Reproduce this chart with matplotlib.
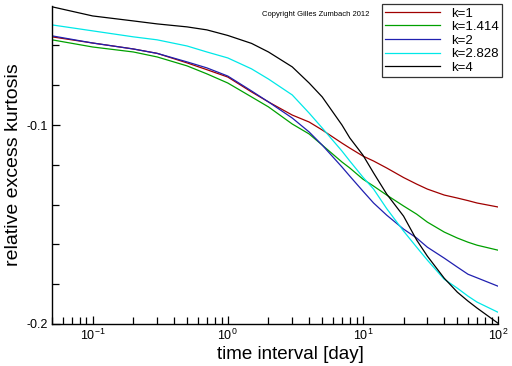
import matplotlib
matplotlib.use("Agg")
import matplotlib.pyplot as plt
from matplotlib.ticker import FixedLocator, LogLocator, NullFormatter, FuncFormatter

plt.rcParams['font.family'] = ['Liberation Sans', 'DejaVu Sans']
plt.rcParams['mathtext.fontset'] = 'custom'
plt.rcParams['mathtext.rm'] = 'Liberation Sans'
plt.rcParams['mathtext.it'] = 'Liberation Sans'

time_interval = [0.05, 0.1, 0.2, 0.3, 0.5, 0.7, 1, 1.5, 2, 3, 4, 5, 7, 8, 10,
                 12, 15, 20, 25, 30, 40, 50, 60, 70, 100]

k_labels = ["k=1", "k=1.414", "k=2", "k=2.828", "k=4"]
k1 = [-0.0557, -0.0588, -0.0618, -0.0640, -0.0688, -0.0722, -0.0759, -0.0834,
      -0.0884, -0.0950, -0.0985, -0.1025, -0.1091, -0.1116, -0.1156, -0.1181,
      -0.1216, -0.1264, -0.1297, -0.1322, -0.1352, -0.1367, -0.1380, -0.1392, -0.1412]
k1414 = [-0.0572, -0.0608, -0.0633, -0.0658, -0.0703, -0.0743, -0.0789, -0.0859,
         -0.0909, -0.0995, -0.1045, -0.1101, -0.1186, -0.1216, -0.1272, -0.1307,
         -0.1352, -0.1407, -0.1448, -0.1488, -0.1538, -0.1568, -0.1589, -0.1604, -0.1629]
k2 = [-0.0552, -0.0588, -0.0618, -0.0640, -0.0683, -0.0713, -0.0754, -0.0829,
      -0.0884, -0.0965, -0.1035, -0.1101, -0.1211, -0.1257, -0.1332, -0.1392,
      -0.1453, -0.1523, -0.1568, -0.1614, -0.1669, -0.1714, -0.1750, -0.1768, -0.1810]
k2828 = [-0.0497, -0.0527, -0.0557, -0.0572, -0.0603, -0.0633, -0.0663, -0.0718,
         -0.0769, -0.0849, -0.0940, -0.1015, -0.1131, -0.1181, -0.1262, -0.1322,
         -0.1420, -0.1533, -0.1614, -0.1679, -0.1775, -0.1820, -0.1860, -0.1890, -0.1941]
k4 = [-0.0406, -0.0452, -0.0477, -0.0492, -0.0507, -0.0522, -0.0550, -0.0590,
      -0.0633, -0.0708, -0.0789, -0.0859, -0.1000, -0.1065, -0.1151, -0.1241,
      -0.1347, -0.1458, -0.1578, -0.1659, -0.1770, -0.1840, -0.1885, -0.1920, -0.1996]

series = [k1, k1414, k2, k2828, k4]
colors = ["#a00000", "#00a000", "#2020b0", "#00e8e8", "#000000"]

fig = plt.figure(figsize=(5.12, 3.66), dpi=100)
ax = fig.add_axes([52/512, 1-324/366, (498-52)/512, (324-5.6)/366])

for vals, lab, col in zip(series, k_labels, colors):
    ax.plot(time_interval, vals, color=col, lw=0.9, label=lab)

ax.set_xscale('log')
ax.set_xlim(0.05, 100)
ax.set_ylim(-0.2, -0.04)

ax.spines['top'].set_visible(False)
ax.spines['right'].set_visible(False)
for s in ['left', 'bottom']:
    ax.spines[s].set_linewidth(1.0)

ax.yaxis.set_major_locator(FixedLocator([-0.2, -0.1]))
ax.yaxis.set_minor_locator(FixedLocator([-0.18, -0.16, -0.14, -0.12, -0.08, -0.06]))
ax.yaxis.set_major_formatter(FuncFormatter(lambda v, p: "%.1f" % v))
ax.xaxis.set_major_locator(LogLocator(base=10, numticks=10))
ax.xaxis.set_minor_locator(LogLocator(base=10, subs=range(2, 10), numticks=20))
ax.xaxis.set_minor_formatter(NullFormatter())

ax.tick_params(which='both', direction='in', top=False, right=False, labelsize=9, pad=3)
ax.tick_params(which='major', length=6, width=0.9)
ax.tick_params(which='minor', length=5, width=0.9)

ax.set_xlabel("time interval [day]", fontsize=13.5, labelpad=1)
ax.xaxis.set_label_coords((290-52)/(498-52), -0.07)
ax.set_ylabel("relative excess kurtosis", fontsize=14, labelpad=3)

leg = ax.legend(loc='upper right', bbox_to_anchor=(502/512, 1-4/366), bbox_transform=fig.transFigure,
                fontsize=9.5, frameon=True, fancybox=False, handlelength=4.2,
                handletextpad=0.8, labelspacing=0.1, borderpad=0.25, borderaxespad=0)
leg.get_frame().set_edgecolor('black')
leg.get_frame().set_linewidth(0.9)

fig.text(262/512, 1-15/366, "Copyright Gilles Zumbach 2012", fontsize=5.5, va='center', ha='left')

fig.savefig("out.png", dpi=100)
